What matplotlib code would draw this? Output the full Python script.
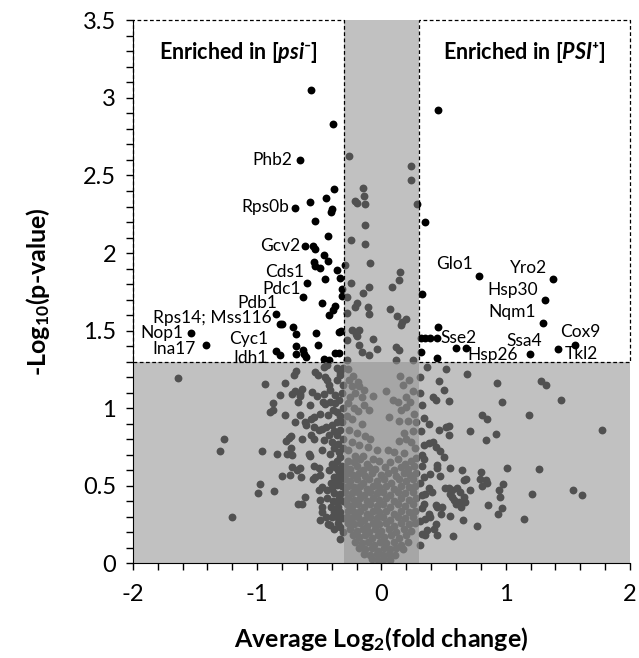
import matplotlib
matplotlib.use("Agg")
from matplotlib import pyplot as plt
from matplotlib.patches import Rectangle
from matplotlib.ticker import MultipleLocator

plt.rcParams['font.family'] = ['Lato', 'DejaVu Sans']
plt.rcParams['mathtext.fontset'] = 'custom'
plt.rcParams['mathtext.rm'] = 'Lato'
plt.rcParams['mathtext.it'] = 'Lato:italic:bold'
plt.rcParams['mathtext.bf'] = 'Lato:bold'
plt.rcParams['axes.unicode_minus'] = False

# significant, enriched in [psi-]  (log2 fold change, -log10 p)
up_left = [
    (-0.569, 3.05), (-0.392, 2.83), (-0.652, 2.60), (-0.384, 2.41), (-0.577, 2.33),
    (-0.698, 2.29), (-0.443, 2.355), (-0.41, 2.265), (-0.397, 2.287), (-0.537, 2.207),
    (-0.432, 2.113), (-0.612, 2.046), (-0.553, 2.046), (-0.537, 2.023), (-0.464, 1.986),
    (-0.432, 1.949), (-0.545, 1.943), (-0.537, 1.917), (-0.491, 1.906), (-0.451, 1.831),
    (-0.357, 1.889), (-0.33, 1.842), (-0.598, 1.805), (-0.314, 1.765), (-0.316, 1.722),
    (-0.63, 1.717), (-0.475, 1.68), (-0.378, 1.659), (-0.389, 1.636), (-0.421, 1.599),
    (-0.848, 1.607), (-0.818, 1.545), (-0.80, 1.541), (-0.714, 1.524), (-1.529, 1.485),
    (-0.687, 1.476), (-0.526, 1.483), (-0.343, 1.491), (-0.324, 1.498), (-1.408, 1.41),
    (-0.509, 1.41), (-0.687, 1.399), (-0.633, 1.378), (-0.62, 1.352), (-0.848, 1.369),
    (-0.813, 1.341), (-0.687, 1.348), (-0.606, 1.33), (-0.464, 1.32), (-0.424, 1.309),
    (-0.37, 1.356), (-0.343, 1.358),
]

# significant, enriched in [PSI+]
up_right = [
    (0.453, 2.921), (0.349, 2.2), (0.327, 1.739), (0.319, 1.362), (0.783, 1.855),
    (1.379, 1.833), (1.315, 1.698), (1.296, 1.547), (0.453, 1.522), (0.319, 1.453),
    (0.354, 1.453), (0.389, 1.453), (0.443, 1.453), (0.601, 1.388), (0.682, 1.388),
    (0.443, 1.324), (1.194, 1.352), (1.419, 1.382), (1.556, 1.41),
]

# small fold change, p < 0.05
band_top = [
    (-0.263, 2.624), (0.241, 2.56), (0.241, 2.474), (-0.15, 2.422), (-0.142, 2.366),
    (-0.217, 2.334), (-0.201, 2.323), (-0.129, 2.315), (0.282, 2.315), (-0.129, 2.179),
    (-0.244, 2.083), (-0.129, 2.061), (-0.089, 1.939), (-0.29, 1.921), (0.147, 1.878),
    (0.139, 1.829), (-0.244, 1.81), (-0.102, 1.782), (0.086, 1.782), (-0.15, 1.743),
    (-0.276, 1.717), (-0.201, 1.678), (-0.217, 1.653), (-0.11, 1.649), (0.072, 1.638),
    (-0.276, 1.616), (-0.097, 1.605), (0.126, 1.597), (0.201, 1.578), (0.167, 1.556),
    (0.159, 1.534), (-0.236, 1.502), (-0.183, 1.507), (-0.209, 1.481), (-0.201, 1.464),
    (-0.276, 1.442), (-0.07, 1.449), (-0.183, 1.406), (-0.035, 1.384), (0.113, 1.395),
    (0.139, 1.373), (-0.155, 1.362), (-0.102, 1.341), (0.255, 1.313), (-0.276, 1.309),
    (0.118, 1.309),
]

# not significant, negative fold change
low_left = [
    (-1.639, 1.197), (-1.264, 0.804), (-1.301, 0.722), (-1.202, 0.297),
    (-0.934, 1.154), (-0.778, 1.163), (-0.706, 1.212), (-0.684, 1.238), (-0.531, 1.233),
    (-0.509, 1.212), (-0.451, 1.201), (-0.437, 1.18), (-0.424, 1.148), (-0.416, 1.115),
    (-0.464, 1.266), (-0.437, 1.277), (-0.357, 1.262), (-0.33, 1.212),
    (-0.818, 1.083), (-0.719, 1.094), (-0.692, 1.109), (-0.658, 1.088), (-0.638, 1.126),
    (-0.652, 1.077), (-0.558, 1.105), (-0.518, 1.077), (-0.464, 1.094),
    (-0.872, 1.03), (-0.674, 1.04), (-0.577, 1.019), (-0.469, 1.04), (-0.451, 1.025),
    (-0.416, 1.04), (-0.378, 1.083), (-0.37, 1.03),
    (-0.893, 0.975), (-0.872, 0.986), (-0.778, 0.959), (-0.652, 0.959), (-0.692, 0.911),
    (-0.612, 0.911), (-0.604, 0.89), (-0.566, 0.927), (-0.539, 0.943), (-0.497, 0.965),
    (-0.432, 0.954), (-0.357, 0.975), (-0.33, 0.948),
    (-0.545, 0.879), (-0.505, 0.858), (-0.477, 0.868), (-0.443, 0.879), (-0.397, 0.89),
    (-0.357, 0.911), (-0.746, 0.808), (-0.765, 0.787), (-0.732, 0.819), (-0.638, 0.804),
    (-0.571, 0.825), (-0.545, 0.804), (-0.464, 0.793), (-0.424, 0.825), (-0.357, 0.825),
    (-0.33, 0.858), (-0.727, 0.746), (-0.96, 0.724), (-0.839, 0.707), (-0.759, 0.707),
    (-0.719, 0.696), (-0.585, 0.707), (-0.577, 0.69), (-0.477, 0.729), (-0.416, 0.707),
    (-0.384, 0.74), (-0.343, 0.718), (-0.33, 0.685),
    (-0.719, 0.621), (-0.679, 0.60), (-0.652, 0.611), (-0.539, 0.625), (-0.505, 0.611),
    (-0.491, 0.567), (-0.531, 0.556), (-0.55, 0.546), (-0.799, 0.563), (-0.738, 0.572),
    (-0.646, 0.556), (-0.424, 0.60), (-0.37, 0.621), (-0.343, 0.578), (-0.384, 0.556),
    (-0.33, 0.546), (-0.974, 0.514), (-0.996, 0.456), (-0.861, 0.464), (-0.505, 0.471),
    (-0.477, 0.492), (-0.437, 0.471), (-0.397, 0.482), (-0.357, 0.503), (-0.33, 0.449),
    (-0.612, 0.424), (-0.638, 0.38), (-0.674, 0.38), (-0.491, 0.406), (-0.477, 0.363),
    (-0.41, 0.363), (-0.357, 0.395), (-0.33, 0.331), (-0.497, 0.282), (-0.477, 0.331),
    (-0.432, 0.256), (-0.416, 0.245), (-0.357, 0.299), (-0.33, 0.234), (-0.335, 0.155),
    (-0.31, 1.15), (-0.32, 1.10), (-0.34, 1.05), (-0.31, 1.00), (-0.39, 0.99),
    (-0.32, 0.91), (-0.38, 0.85), (-0.31, 0.80), (-0.35, 0.77), (-0.40, 0.78),
    (-0.31, 0.74), (-0.36, 0.66), (-0.32, 0.63), (-0.40, 0.64), (-0.35, 0.60),
    (-0.31, 0.58), (-0.36, 0.53), (-0.41, 0.52), (-0.32, 0.50), (-0.38, 0.45),
    (-0.34, 0.42), (-0.31, 0.40), (-0.39, 0.40), (-0.44, 0.42), (-0.35, 0.36),
    (-0.38, 0.33), (-0.31, 0.29), (-0.40, 0.30), (-0.35, 0.26), (-0.31, 0.20),
    (-0.38, 0.22), (-0.45, 0.30), (-0.31, 1.26), (-0.36, 1.18), (-0.33, 1.23),
]

# not significant, positive fold change
low_right = [
    (0.367, 1.266), (0.523, 1.255), (0.69, 1.223), (0.931, 1.159), (0.461, 1.173),
    (0.501, 1.115), (0.416, 1.072), (0.435, 1.051), (0.547, 1.046), (0.971, 1.04),
    (0.327, 1.019), (0.81, 0.954), (0.845, 0.927), (1.186, 0.959), (0.341, 0.939),
    (0.381, 0.901), (0.523, 0.879), (0.542, 0.883), (0.461, 0.858), (0.547, 0.825),
    (0.711, 0.851), (0.837, 0.797), (0.92, 0.832), (0.341, 0.76), (0.381, 0.776),
    (0.416, 0.782), (0.435, 0.75), (0.469, 0.724), (0.327, 0.696), (0.341, 0.675),
    (0.501, 0.685), (0.327, 0.625), (0.448, 0.632), (0.443, 0.611), (0.555, 0.615),
    (0.649, 0.604), (1.012, 0.615), (1.266, 0.606), (0.341, 0.556), (0.389, 0.574),
    (0.469, 0.563), (0.797, 0.589), (0.791, 0.546), (0.663, 0.535), (0.684, 0.54),
    (0.837, 0.535), (0.851, 0.518), (0.81, 0.496), (0.979, 0.514), (0.381, 0.482),
    (0.408, 0.46), (0.354, 0.449), (0.327, 0.438), (0.515, 0.482), (0.542, 0.482),
    (0.569, 0.475), (0.609, 0.482), (0.63, 0.46), (0.711, 0.471), (0.944, 0.475),
    (0.952, 0.427), (1.213, 0.449), (0.555, 0.449), (0.569, 0.427), (0.582, 0.406),
    (0.596, 0.385), (0.622, 0.395), (0.636, 0.363), (0.663, 0.427), (0.668, 0.395),
    (0.435, 0.374), (0.448, 0.363), (0.488, 0.363), (0.48, 0.32), (0.341, 0.385),
    (0.327, 0.353), (0.381, 0.32), (0.354, 0.288), (0.394, 0.299), (0.856, 0.374),
    (0.971, 0.357), (0.936, 0.32), (0.555, 0.303), (0.657, 0.282), (1.145, 0.288),
    (0.435, 0.256), (0.421, 0.224), (0.367, 0.213), (0.327, 0.191), (0.354, 0.181),
    (0.443, 0.181), (0.765, 0.239), (0.577, 0.174), (1.28, 1.173), (1.325, 1.148),
    (1.441, 1.055), (1.776, 0.858), (1.543, 0.475), (1.615, 0.438),
    (0.31, 1.20), (0.31, 1.10), (0.32, 0.85), (0.31, 0.52), (0.31, 0.27), (0.31, 0.12),
]

# the crowded centre (|fold change| < 0.3, p > 0.05)
centre = [
    (-0.27, 1.25), (-0.23, 1.21), (-0.26, 1.18), (-0.19, 1.17), (-0.24, 1.14),
    (-0.18, 1.14), (-0.14, 1.12), (-0.21, 1.10), (-0.25, 1.07), (-0.16, 1.07),
    (-0.07, 1.08), (-0.27, 1.03), (-0.22, 1.00), (-0.19, 0.98), (-0.14, 1.02),
    (-0.10, 0.99), (-0.28, 0.95), (-0.24, 0.93), (-0.16, 0.90), (-0.26, 0.86),
    (-0.20, 0.84), (-0.13, 0.82), (-0.09, 0.80), (-0.24, 0.78), (-0.18, 0.76),
    (-0.11, 0.75), (-0.04, 0.73), (-0.27, 0.73), (-0.21, 0.69), (-0.15, 0.69),
    (-0.07, 0.67), (0.15, 1.21), (0.17, 1.15), (0.22, 1.18), (0.25, 1.11),
    (0.20, 1.07), (0.04, 1.11), (0.09, 1.05), (0.13, 1.04), (0.16, 0.99),
    (0.20, 1.01), (0.23, 1.04), (0.26, 0.96), (0.28, 0.91), (0.06, 0.94),
    (0.14, 0.92), (0.21, 0.92), (0.25, 0.85), (0.18, 0.84), (0.14, 0.79),
    (0.20, 0.80), (0.24, 0.78), (0.27, 0.74), (0.10, 0.72), (0.05, 0.73),
    (0.18, 0.71), (0.28, 0.68),
    (-0.27, 0.66), (-0.22, 0.65), (-0.17, 0.67), (-0.12, 0.64), (-0.02, 0.66),
    (0.07, 0.65), (0.13, 0.67), (0.19, 0.64), (0.24, 0.66),
    (-0.29, 0.62), (-0.25, 0.61), (-0.20, 0.63), (-0.15, 0.60), (-0.10, 0.62),
    (-0.05, 0.61), (0.03, 0.62), (0.10, 0.60), (0.16, 0.62), (0.21, 0.61), (0.26, 0.63),
    (-0.27, 0.58), (-0.23, 0.57), (-0.18, 0.58), (-0.13, 0.56), (-0.08, 0.58),
    (0.00, 0.57), (0.05, 0.58), (0.12, 0.56), (0.18, 0.58), (0.23, 0.57), (0.28, 0.58),
    (-0.29, 0.54), (-0.25, 0.53), (-0.20, 0.54), (-0.15, 0.52), (-0.10, 0.54),
    (-0.04, 0.53), (0.02, 0.54), (0.08, 0.52), (0.14, 0.54), (0.20, 0.53), (0.25, 0.54),
    (-0.27, 0.50), (-0.22, 0.49), (-0.17, 0.50), (-0.12, 0.48), (-0.07, 0.50),
    (-0.02, 0.49), (0.04, 0.50), (0.10, 0.48), (0.16, 0.50), (0.22, 0.49), (0.27, 0.50),
    (-0.29, 0.46), (-0.24, 0.45), (-0.19, 0.46), (-0.14, 0.44), (-0.09, 0.46),
    (-0.04, 0.45), (0.01, 0.46), (0.07, 0.44), (0.13, 0.46), (0.19, 0.45), (0.25, 0.46),
    (-0.27, 0.42), (-0.22, 0.41), (-0.17, 0.42), (-0.12, 0.40), (-0.07, 0.42),
    (-0.02, 0.41), (0.04, 0.42), (0.10, 0.40), (0.16, 0.42), (0.22, 0.41), (0.28, 0.42),
    (-0.28, 0.38), (-0.24, 0.37), (-0.19, 0.38), (-0.14, 0.36), (-0.09, 0.38),
    (-0.04, 0.37), (0.01, 0.38), (0.07, 0.36), (0.13, 0.38), (0.19, 0.37), (0.25, 0.38),
    (-0.27, 0.34), (-0.22, 0.33), (-0.17, 0.34), (-0.12, 0.32), (-0.07, 0.34),
    (-0.02, 0.33), (0.04, 0.34), (0.10, 0.32), (0.16, 0.34), (0.22, 0.33), (0.27, 0.34),
    (-0.28, 0.30), (-0.24, 0.29), (-0.19, 0.30), (-0.14, 0.28), (-0.09, 0.30),
    (-0.04, 0.29), (0.01, 0.30), (0.07, 0.28), (0.13, 0.30), (0.19, 0.29), (0.25, 0.30),
    (-0.27, 0.26), (-0.22, 0.25), (-0.17, 0.26), (-0.12, 0.24), (-0.07, 0.26),
    (-0.02, 0.25), (0.04, 0.26), (0.10, 0.24), (0.16, 0.26), (0.22, 0.25), (0.27, 0.26),
    (-0.25, 0.22), (-0.20, 0.21), (-0.15, 0.22), (-0.10, 0.20), (-0.05, 0.22),
    (0.00, 0.21), (0.06, 0.22), (0.12, 0.20), (0.18, 0.22), (0.24, 0.21),
    (-0.23, 0.18), (-0.18, 0.17), (-0.13, 0.18), (-0.08, 0.16), (-0.03, 0.18),
    (0.02, 0.17), (0.08, 0.18), (0.14, 0.16), (0.20, 0.18),
    (-0.21, 0.14), (-0.16, 0.13), (-0.11, 0.14), (-0.06, 0.12), (-0.01, 0.14),
    (0.04, 0.13), (0.10, 0.14), (0.16, 0.12), (0.21, 0.14),
    (-0.18, 0.10), (-0.13, 0.09), (-0.08, 0.10), (-0.03, 0.08), (0.02, 0.10),
    (0.07, 0.09), (0.12, 0.10), (0.17, 0.09),
    (-0.14, 0.06), (-0.09, 0.05), (-0.04, 0.06), (0.01, 0.05), (0.06, 0.06), (0.11, 0.05),
    (-0.08, 0.03), (-0.03, 0.02), (0.02, 0.03), (0.07, 0.02), (-0.01, 0.01),
]

# labelled proteins
gene_names = ['Phb2', 'Rps0b', 'Gcv2', 'Cds1', 'Pdc1', 'Pdb1', 'Rps14; Mss116', 'Nop1',
              'Ina17', 'Cyc1', 'Idh1', 'Glo1', 'Yro2', 'Hsp30', 'Nqm1', 'Sse2', 'Ssa4',
              'Cox9', 'Hsp26', 'Tkl2']
gene_x = [-0.652, -0.698, -0.612, -0.598, -0.63, -0.848, -0.818, -1.529, -1.408, -0.687,
          -0.848, 0.783, 1.379, 1.315, 1.296, 0.443, 1.194, 1.556, 0.682, 1.419]
gene_y = [2.60, 2.29, 2.046, 1.805, 1.717, 1.607, 1.545, 1.485, 1.41, 1.399,
          1.369, 1.855, 1.833, 1.698, 1.547, 1.453, 1.352, 1.41, 1.388, 1.382]
label_dx = [-6, -4, -4, -2, -2, 1, -6, -6, -8, -20, -6, -4, -4, -5, -5, 3, -4, 4, 1, 5]
label_dy = [0, 1, 0, 8, 6, 8, 4, 0, -3, 5, -5, 8, 8, 7, 8, 0, 9, 9, -5, -4]
label_ha = ['right'] * 15 + ['left', 'center', 'center', 'left', 'left']

fig = plt.figure(figsize=(6.39, 6.58), dpi=100)
ax = fig.add_axes([0.208, 0.144, 0.778, 0.825])

for group in (up_left, up_right, band_top, low_left, low_right, centre):
    xs = [p[0] for p in group]
    ys = [p[1] for p in group]
    ax.scatter(xs, ys, s=32, color='black', linewidths=0, zorder=2)

# grey boxes for the non significant areas, drawn over the dots
shade = (0.57, 0.57, 0.57)
ax.add_patch(Rectangle((-2, 0), 4, 1.3, facecolor=shade, alpha=0.56,
                       edgecolor='none', zorder=3))
ax.add_patch(Rectangle((-0.3, 0), 0.6, 3.5, facecolor=shade, alpha=0.56,
                       edgecolor='none', zorder=3))

for x0 in (-2, 0.3):
    ax.add_patch(Rectangle((x0, 1.3), 1.7, 2.2, fill=False, edgecolor='black',
                           linestyle=(0, (3, 2)), linewidth=0.9, zorder=4, clip_on=False))

for name, gx, gy, dx, dy, ha in zip(gene_names, gene_x, gene_y, label_dx, label_dy, label_ha):
    ax.annotate(name, (gx, gy), xytext=(dx, dy), textcoords='offset points',
                ha=ha, va='center', fontsize=12.5, zorder=5)

ax.text(-1.15, 3.295, 'Enriched in [$\\mathit{psi}$⁻]', ha='center', va='center',
        fontsize=15.5, fontweight='bold', zorder=5)
ax.text(1.15, 3.295, 'Enriched in [$\\mathit{PSI}$⁺]', ha='center', va='center',
        fontsize=15.5, fontweight='bold', zorder=5)

ax.set_xlim(-2, 2)
ax.set_ylim(0, 3.5)
ax.xaxis.set_major_locator(MultipleLocator(1))
ax.xaxis.set_minor_locator(MultipleLocator(0.2))
ax.yaxis.set_minor_locator(MultipleLocator(0.1))
ax.set_yticks([0, 0.5, 1, 1.5, 2, 2.5, 3, 3.5])
ax.set_yticklabels(['0', '0.5', '1', '1.5', '2', '2.5', '3', '3.5'])
ax.tick_params(which='both', direction='out', length=5, width=1, labelsize=17)
ax.tick_params(axis='x', pad=10)
ax.tick_params(axis='y', pad=7)
ax.spines['top'].set_visible(False)
ax.spines['right'].set_visible(False)
ax.spines['left'].set_zorder(6)
ax.spines['bottom'].set_zorder(6)

ax.set_xlabel('Average Log$_{\\mathbf{2}}$(fold change)', fontsize=18,
              fontweight='bold', labelpad=14)
ax.set_ylabel('-Log$_{\\mathbf{10}}$(p-value)', fontsize=18, fontweight='bold',
              labelpad=22)

fig.savefig('out.png', dpi=100)
